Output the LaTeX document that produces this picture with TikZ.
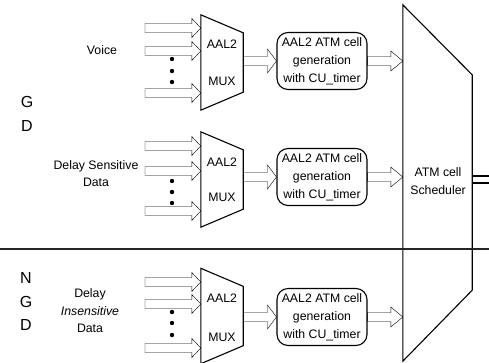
\documentclass[tikz,border=0pt]{standalone}
\usepackage{fontspec}
\setmainfont{Liberation Sans}
\usetikzlibrary{calc}
\tikzset{
 lbl/.style={font=\fontsize{12.3}{17.5}\selectfont, align=center, inner sep=0pt},
 big/.style={font=\fontsize{16}{24}\selectfont, align=center, inner sep=0pt},
 muxbox/.style={minimum width=42pt, minimum height=95pt, inner sep=0pt},
 schedbox/.style={minimum width=69pt, minimum height=356pt, inner sep=0pt},
 cellbox/.style={draw, line width=1.1pt, rounded corners=11pt, minimum width=90pt, minimum height=57pt, inner sep=0pt, align=center, font=\fontsize{12.3}{18}\selectfont},
 ln/.style={line width=1.1pt},
 blockarrow/.style n args={3}{ln, to path={let \p1=(\tikztostart), \p2=(\tikztotarget) in (\x1,\y1+#1) -- (\x2-#3,\y1+#1) -- (\x2-#3,\y1+#2) -- (\x2,\y1) -- (\x2-#3,\y1-#2) -- (\x2-#3,\y1-#1) -- (\x1,\y1-#1) -- cycle}},
 inarrow/.style={blockarrow={4.5pt}{9.5pt}{9pt}},
 midarrow/.style={blockarrow={4.5pt}{12pt}{9pt}},
 outarrow/.style={blockarrow={4.5pt}{10pt}{12pt}},
 vdot/.style={circle, fill, inner sep=0pt, minimum size=4.4pt},
}
\newcommand\muxshape[1]{\draw[ln] (#1.north west) -- ($(#1.north east)+(0,18)$) -- ($(#1.south east)+(0,-18)$) -- (#1.south west) -- cycle;}
\begin{document}
\begin{tikzpicture}[x=1pt,y=-1pt]
\useasboundingbox (0,0) rectangle (489,362);

% left letters
\node[big] (g1) at (27,102) {G};
\node[big] (d1) at (27,126) {D};
\node[big] (n2) at (26,278) {N};
\node[big] (g2) at (26,302) {G};
\node[big] (d2) at (26,325) {D};

% source labels
\node[lbl] (voice) at (102,50) {Voice};
\node[lbl] (dsd) at (96,173.5) {Delay Sensitive\\Data};
\node[lbl] (did) at (90,311) {Delay\\\textit{Insensitive}\\Data};

% muxes
\node[muxbox] (m1) at (222,62.5) {};
\node[muxbox] (m2) at (222,179.5) {};
\node[muxbox] (m3) at (222,316) {};
\muxshape{m1}
\muxshape{m2}
\muxshape{m3}
\node[lbl] (m1a) at (222,44) {AAL2};
\node[lbl] (m1b) at (222,81) {MUX};
\node[lbl] (m2a) at (222,162) {AAL2};
\node[lbl] (m2b) at (222,197) {MUX};
\node[lbl] (m3a) at (222,298) {AAL2};
\node[lbl] (m3b) at (222,337) {MUX};

% input arrows
\coordinate (a11) at (145,28);
\coordinate (a12) at (145,51);
\coordinate (a13) at (145,93);
\coordinate (a21) at (145,146);
\coordinate (a22) at (145,171);
\coordinate (a23) at (145,211);
\coordinate (a31) at (145,282);
\coordinate (a32) at (145,304);
\coordinate (a33) at (145,348);
\foreach \m/\a in {m1/a11,m1/a12,m1/a13,m2/a21,m2/a22,m2/a23,m3/a31,m3/a32,m3/a33}
  \draw (\a) to[inarrow] (\m.west |- \a);

% dots
\node[vdot] (v11) at (172,59) {};
\node[vdot] (v12) at (172,71) {};
\node[vdot] (v13) at (172,82) {};
\node[vdot] (v21) at (172,181) {};
\node[vdot] (v22) at (172,192) {};
\node[vdot] (v23) at (172,203) {};
\node[vdot] (v31) at (172,312) {};
\node[vdot] (v32) at (172,323) {};
\node[vdot] (v33) at (172,335) {};

% cell generation boxes
\node[cellbox] (c1) at (322,61) {AAL2 ATM cell\\generation\\with CU\_timer};
\node[cellbox] (c2) at (322,177) {AAL2 ATM cell\\generation\\with CU\_timer};
\node[cellbox] (c3) at (322,317) {AAL2 ATM cell\\generation\\with CU\_timer};

% scheduler
\node[schedbox] (sched) at (437.5,183) {};
\draw[ln] (sched.north west) -- ($(sched.north east)+(0,70)$) -- ($(sched.south east)+(0,-71)$) -- (sched.south west) -- cycle;
\node[lbl] (schedtxt) at (438,181) {ATM cell\\Scheduler};

% mux -> cell box -> scheduler
\foreach \m/\c in {m1/c1,m2/c2,m3/c3}{
  \draw (\m.east |- \c.west) to[midarrow] (\c.west);
  \draw (\c.east) to[outarrow] (sched.west |- \c.east);
}

% scheduler output
\coordinate (o1) at (489,176);
\coordinate (o2) at (489,183);
\draw[ln] (sched.east |- o1) -- (o1);
\draw[ln] (sched.east |- o2) -- (o2);

% separator
\coordinate (s0) at (0,249);
\coordinate (s1) at (489,249);
\draw[ln, black!85] (s0) -- (s1);
\end{tikzpicture}
\end{document}
